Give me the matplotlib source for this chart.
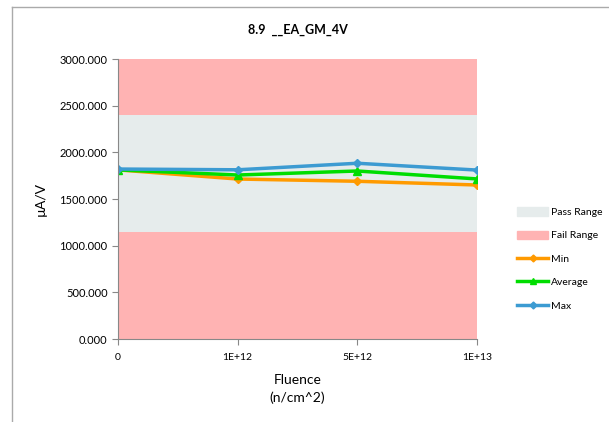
import matplotlib
matplotlib.use("Agg")
import matplotlib.pyplot as plt
from matplotlib.lines import Line2D
import numpy as np

plt.rcParams['font.family'] = ['Lato', 'DejaVu Sans']

categories = ["0", "1E+12", "5E+12", "1E+13"]
fail_low = [1150, 1150, 1150, 1150]
pass_top = [2400, 2400, 2400, 2400]
fail_top = [3000, 3000, 3000, 3000]
min_vals = [1812, 1714, 1690, 1650]
avg_vals = [1812, 1757, 1800, 1715]
max_vals = [1821, 1813, 1883, 1810]
yticks = [0, 500, 1000, 1500, 2000, 2500, 3000]

fig = plt.figure(figsize=(6.09, 4.22), dpi=100)
ax = fig.add_axes([118/609, 1-339/422, (477-118)/609, (339-59)/422])

x = np.arange(len(categories))
pink = "#FFB3B3"
grey = "#E6ECEC"
ax.fill_between(x, 0, fail_low, color=pink, lw=0)
ax.fill_between(x, fail_low, pass_top, color=grey, lw=0)
ax.fill_between(x, pass_top, fail_top, color=pink, lw=0)

ax.plot(x, min_vals, color="#FF9A00", lw=2.5, marker="D", ms=4.5, label="Min")
ax.plot(x, avg_vals, color="#00DD00", lw=2.5, marker="^", ms=5.5, label="Average")
ax.plot(x, max_vals, color="#3C9BD2", lw=2.5, marker="D", ms=4.5, label="Max")

ax.set_xlim(0, 3)
ax.set_ylim(0, 3000)
ax.set_xticks(x)
ax.set_xticklabels(categories, fontsize=7.5)
ax.set_yticks(yticks)
ax.set_yticklabels([f"{v:.3f}" for v in yticks], fontsize=8)
for s in ["top", "right"]:
    ax.spines[s].set_visible(False)
for s in ["left", "bottom"]:
    ax.spines[s].set_color("#888888")
    ax.spines[s].set_linewidth(0.8)
ax.tick_params(axis="both", colors="#888888", labelcolor="black", length=4, width=0.8)
ax.tick_params(axis="x", pad=6)
ax.set_ylabel("µA/V", fontsize=10, labelpad=9)
ax.set_xlabel("Fluence\n(n/cm^2)", fontsize=10, labelpad=9, linespacing=1.5)
ax.set_title("8.9  __EA_GM_4V", fontsize=9, fontweight="bold", pad=18)

handles = [
    plt.Rectangle((0, 0), 1, 1, color=grey),
    plt.Rectangle((0, 0), 1, 1, color=pink),
    Line2D([], [], color="#FF9A00", lw=2.5, marker="D", ms=3.5),
    Line2D([], [], color="#00DD00", lw=2.5, marker="^", ms=4.5),
    Line2D([], [], color="#3C9BD2", lw=2.5, marker="D", ms=3.5),
]
labels = ["Pass Range", "Fail Range", "Min", "Average", "Max"]
fig.legend(handles, labels, loc="center left", bbox_to_anchor=(512/609, 1-259/422),
           frameon=False, fontsize=7.5, handlelength=3.0, handleheight=0.9,
           labelspacing=1.3, handletextpad=0.2, borderpad=0)

# outer chart frame
fig.add_artist(Line2D([12/609, 1.0], [1-7/422, 1-7/422], transform=fig.transFigure, color="#AAAAAA", lw=1))
fig.add_artist(Line2D([12/609, 12/609], [0, 1-7/422], transform=fig.transFigure, color="#AAAAAA", lw=1))

fig.savefig("out.png", dpi=100)
